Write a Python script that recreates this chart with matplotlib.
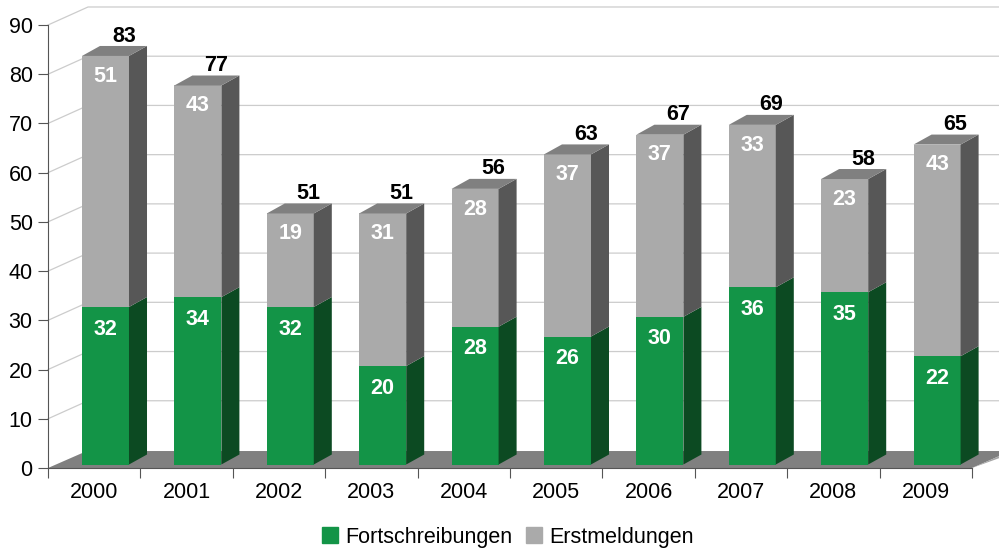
import matplotlib.pyplot as plt
from matplotlib.patches import Polygon, Patch

plt.rcParams['font.family'] = ['Liberation Sans', 'DejaVu Sans']

# data
years = ['2000', '2001', '2002', '2003', '2004', '2005', '2006', '2007', '2008', '2009']
fortschreibungen = [32, 34, 32, 20, 28, 26, 30, 36, 35, 22]
erstmeldungen = [51, 43, 19, 31, 28, 37, 37, 33, 23, 43]
totals = [83, 77, 51, 51, 56, 63, 67, 69, 58, 65]

GREEN = '#139447'
GREEN_SIDE = '#0c4a22'
GREY = '#aaaaaa'
GREY_SIDE = '#575757'
TOP = '#808080'

# fake 3d offsets (x in category units, y in value units)
WALL_DX, WALL_DY = 0.433, 3.66
FLOOR_DX, FLOOR_DY = 0.42, 3.45
BAR_X0, BAR_Y0 = 0.122, 0.71
BAR_W = 0.509
DEPTH_DX, DEPTH_DY = 0.195, 2.03

fig = plt.figure(figsize=(9.99, 5.5), dpi=100)
ax = fig.add_axes([48 / 999, (550 - 468) / 550, 924 / 999, 443 / 550])
ax.set_xlim(-0.5, 9.5)
ax.set_ylim(0, 90)

# back wall grid lines
x_right = (999 - 48) / 92.4 - 0.5 + 0.1
for v in range(10, 100, 10):
    ax.plot([-0.5, -0.5 + WALL_DX, x_right], [v, v + WALL_DY, v + WALL_DY],
            color='#cccccc', lw=0.9, zorder=1, clip_on=False)

# floor
floor = Polygon([(-0.5, 0), (9.5, 0), (9.5 + FLOOR_DX, FLOOR_DY), (-0.5 + FLOOR_DX, FLOOR_DY)],
                closed=True, facecolor='#808080', edgecolor='none', zorder=2, clip_on=False)
ax.add_patch(floor)
ax.add_patch(Polygon([(9.5, 0), (9.5 + FLOOR_DX, FLOOR_DY), (9.5 + FLOOR_DX, FLOOR_DY - 0.6)],
                     closed=True, facecolor='#a6a6a6', edgecolor='none', zorder=2, clip_on=False))

xs = [i + BAR_X0 for i in range(len(years))]
bottoms = [BAR_Y0] * len(years)
tops_green = [BAR_Y0 + f for f in fortschreibungen]

ax.bar(xs, fortschreibungen, BAR_W, bottom=bottoms, color=GREEN, zorder=3, clip_on=False)
ax.bar(xs, erstmeldungen, BAR_W, bottom=tops_green, color=GREY, zorder=3, clip_on=False)


def side(x, y0, y1, color):
    xr = x + BAR_W / 2
    pts = [(xr, y0), (xr + DEPTH_DX, y0 + DEPTH_DY), (xr + DEPTH_DX, y1 + DEPTH_DY), (xr, y1)]
    ax.add_patch(Polygon(pts, closed=True, facecolor=color, edgecolor='none', zorder=3, clip_on=False))


for i in range(len(years)):
    x = xs[i]
    g_top = tops_green[i]
    t_top = g_top + erstmeldungen[i]
    side(x, BAR_Y0, g_top, GREEN_SIDE)
    side(x, g_top, t_top, GREY_SIDE)
    xl, xr = x - BAR_W / 2, x + BAR_W / 2
    ax.add_patch(Polygon([(xl, t_top), (xr, t_top), (xr + DEPTH_DX, t_top + DEPTH_DY),
                          (xl + DEPTH_DX, t_top + DEPTH_DY)],
                         closed=True, facecolor=TOP, edgecolor='none', zorder=3, clip_on=False))
    ax.text(x, g_top - 4.5, str(fortschreibungen[i]), ha='center', va='center',
            color='white', fontsize=15.5, fontweight='bold', zorder=5)
    ax.text(x, t_top - 4.1, str(erstmeldungen[i]), ha='center', va='center',
            color='white', fontsize=15.5, fontweight='bold', zorder=5)
    ax.text(x + 0.2, t_top + 4.05, str(totals[i]), ha='center', va='center',
            color='black', fontsize=15.5, fontweight='bold', zorder=5)

# axes styling
for s in ['top', 'right']:
    ax.spines[s].set_visible(False)
for s in ['left', 'bottom']:
    ax.spines[s].set_color('#555555')
    ax.spines[s].set_zorder(4)
ax.patch.set_visible(False)

ax.set_yticks(range(0, 100, 10))
ax.tick_params(axis='y', length=7, color='#555555', labelsize=15.5, pad=4)
ax.set_xticks([i - 0.5 for i in range(11)])
ax.set_xticklabels([])
ax.tick_params(axis='x', which='major', length=7, color='#555555')
ax.set_xticks(range(len(years)), minor=True)
ax.set_xticklabels(years, minor=True)
ax.tick_params(axis='x', which='minor', length=0, labelsize=15.5, pad=10)

handles = [Patch(color=GREEN, label='Fortschreibungen'), Patch(color=GREY, label='Erstmeldungen')]
fig.legend(handles=handles, loc='center', bbox_to_anchor=(508 / 999, 1 - 537 / 550), ncol=2,
           frameon=False, fontsize=15.5, handlelength=0.75, handleheight=0.75,
           handletextpad=0.35, columnspacing=0.6)

fig.savefig('out.png', dpi=100)
